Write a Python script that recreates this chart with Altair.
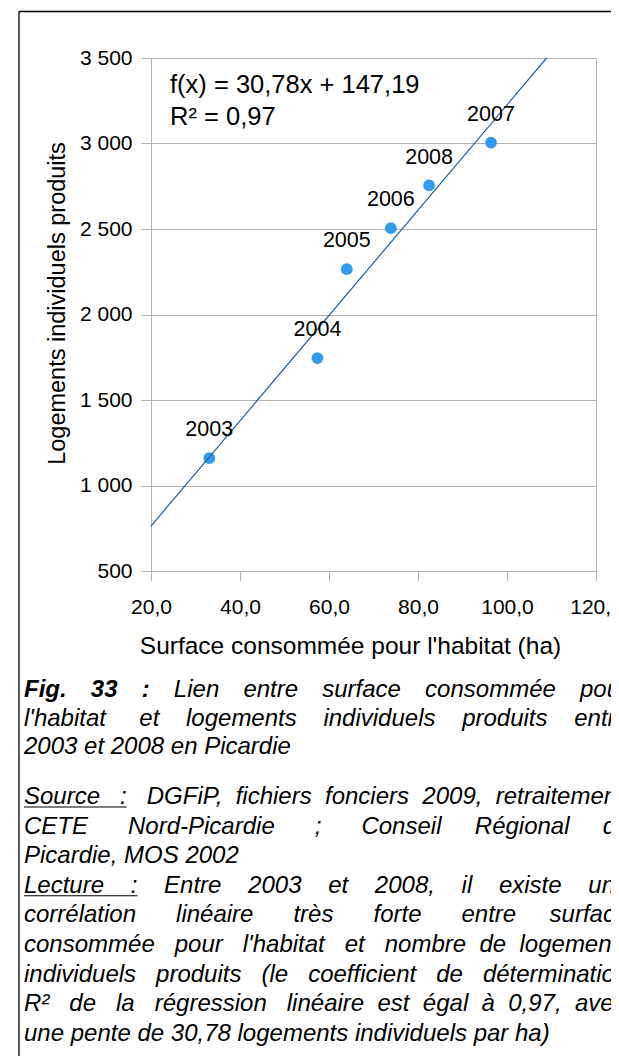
import altair as alt
import pandas as pd

# ---------------- data ----------------
years = ["2003", "2004", "2005", "2006", "2007", "2008"]
surface = [33.1, 57.4, 64.0, 73.9, 96.4, 82.5]
logements = [1160, 1745, 2265, 2505, 3005, 2755]

trend_x = [20.0, 108.9]
trend_y = [762.8, 3500.0]

x_ticks = [20, 40, 60, 80, 100, 120]
y_ticks = [500, 1000, 1500, 2000, 2500, 3000, 3500]

equation = ["f(x) = 30,78x + 147,19", "R² = 0,97"]

x_title = "Surface consommée pour l'habitat (ha)"
y_title = "Logements individuels produits"

caption_bold = "Fig. 33 :"
caption_lines = [
    "Lien entre surface consommée pour",
    "l'habitat et logements individuels produits entre",
    "2003 et 2008 en Picardie",
    "Source : DGFiP, fichiers fonciers 2009, retraitement",
    "CETE Nord-Picardie ; Conseil Régional de",
    "Picardie, MOS 2002",
    "Lecture : Entre 2003 et 2008, il existe une",
    "corrélation linéaire très forte entre surface",
    "consommée pour l'habitat et nombre de logements",
    "individuels produits (le coefficient de détermination",
    "R² de la régression linéaire est égal à 0,97, avec",
    "une pente de 30,78 logements individuels par ha)",
]
justified = [True, True, False, True, True, False, True, True, True, True, True, False]

# ---------------- layout ----------------
W, H = 445, 513
PAD_L, PAD_T = 143, 50
TOTAL_W, TOTAL_H = 603, 1048
ORIGIN_X, ORIGIN_Y = 8 + PAD_L, 8 + PAD_T  # page coords of plot origin

def px(xp):
    return xp - ORIGIN_X

def py(yp):
    return yp - ORIGIN_Y

# Arial / Liberation Sans advance widths (1/1000 em)
AW = {
    " ": 278, "\u00a0": 278, "a": 556, "b": 556, "c": 500, "d": 556, "e": 556, "f": 278,
    "g": 556, "h": 556, "i": 222, "j": 222, "k": 500, "l": 222, "m": 833, "n": 556,
    "o": 556, "p": 556, "q": 556, "r": 333, "s": 500, "t": 278, "u": 556, "v": 500,
    "w": 722, "x": 500, "y": 500, "z": 500, "A": 667, "B": 667, "C": 722, "D": 722,
    "E": 667, "F": 611, "G": 778, "H": 722, "I": 278, "J": 500, "K": 667, "L": 556,
    "M": 833, "N": 722, "O": 778, "P": 667, "Q": 778, "R": 722, "S": 667, "T": 611,
    "U": 722, "V": 667, "W": 944, "X": 667, "Y": 667, "Z": 611, ",": 278, ".": 278,
    ":": 278, ";": 278, "'": 191, "(": 333, ")": 333, "-": 333, "²": 333, "é": 556,
    "è": 556, "à": 556,
}
BW = {"F": 611, "i": 278, "g": 611, ".": 278, " ": 278, "3": 556, ":": 333}

def tw(s, table=AW):
    return sum(table.get(c, 556) for c in s) / 1000.0

CAP_FS = 24
CAP_X0 = 24
CAP_R = 628
LINE_Y = [697, 725.5, 754] + [804 + 29.6 * k for k in range(9)]

def justify(words, start_x, avail):
    gaps = len(words) - 1
    natural = tw(" ".join(words)) * CAP_FS
    extra = max(0.0, avail - start_x - natural)
    sp = 0.278 * CAP_FS
    n_extra = int(round(extra / sp))
    out = words[0]
    for i, w in enumerate(words[1:]):
        k = n_extra // gaps + (1 if i < n_extra % gaps else 0)
        out += "\u00a0" * (1 + k) + w
    return out, n_extra, gaps

layers = []

pts = pd.DataFrame({"year": years, "surface": surface, "logements": logements})
trend = pd.DataFrame({"x": trend_x, "y": trend_y})

xscale = alt.Scale(domain=[20, 120], nice=False, zero=False)
yscale = alt.Scale(domain=[500, 3500], nice=False, zero=False)

xenc = alt.X(
    "surface:Q", scale=xscale,
    axis=alt.Axis(
        values=x_ticks, grid=False, labelFlush=False, labelOverlap=False,
        labelExpr="replace(format(datum.value, '.1f'), '.', ',')",
        title=x_title, titleX=199, titleY=63, titleBaseline="top", titleFontSize=24.5,
    ),
)
yenc = alt.Y(
    "logements:Q", scale=yscale,
    axis=alt.Axis(
        values=y_ticks, grid=True, labelFlush=False, labelOverlap=False,
        labelExpr="replace(format(datum.value, ',d'), ',', ' ')",
        title=y_title, titleX=-82, titleY=245, titleBaseline="bottom", titleFontSize=23.5,
    ),
)

line = alt.Chart(trend).mark_line(color="#1f5fa0", strokeWidth=1.2).encode(
    x=alt.X("x:Q", scale=xscale), y=alt.Y("y:Q", scale=yscale),
)
points = alt.Chart(pts).mark_circle(size=140, color="#339af0", opacity=1).encode(x=xenc, y=yenc)
labels = alt.Chart(pts).mark_text(
    font="Liberation Sans", fontSize=21.5, dy=-21.7, baseline="alphabetic", align="center", color="black"
).encode(x="surface:Q", y="logements:Q", text="year:N")

layers += [points, line, labels]

for t, yb in zip(equation, [93, 125]):
    layers.append(alt.Chart(pd.DataFrame({"t": [t]})).mark_text(
        font="Liberation Sans", fontSize=25.5, align="left", baseline="alphabetic", color="black"
    ).encode(text="t:N", x=alt.value(px(170)), y=alt.value(py(yb))))

# frame
frame_df = pd.DataFrame({"k": [0]})
layers.append(alt.Chart(frame_df).mark_rule(color="black", strokeWidth=1.3).encode(
    x=alt.value(px(19)), y=alt.value(py(11.5)), y2=alt.value(py(1070))))
layers.append(alt.Chart(frame_df).mark_rule(color="black", strokeWidth=1.3).encode(
    x=alt.value(px(19)), x2=alt.value(px(640)), y=alt.value(py(11.5))))

# caption
for i, (txt, just) in enumerate(zip(caption_lines, justified)):
    x0 = CAP_X0
    if i == 0:
        words_all = caption_bold.split(" ") + txt.split(" ")
        natural = tw(caption_bold, BW) * CAP_FS + tw(" " + txt) * CAP_FS
        gaps = len(words_all) - 1
        g = (CAP_R - CAP_X0 - natural) / gaps + 0.278 * CAP_FS
        cx = CAP_X0
        for j, w in enumerate(words_all):
            tbl = BW if j < 3 else AW
            layers.append(alt.Chart(pd.DataFrame({"t": [w]})).mark_text(
                font="Liberation Sans", fontSize=CAP_FS, fontStyle="italic",
                fontWeight="bold" if j < 3 else "normal", align="left", baseline="alphabetic",
                color="black").encode(text="t:N", x=alt.value(px(cx)), y=alt.value(py(LINE_Y[i]))))
            cx += tw(w, tbl) * CAP_FS + g
        continue
    words = txt.split(" ")
    if just:
        text, n_extra, gaps = justify(words, x0, CAP_R)
    else:
        text = txt
    layers.append(alt.Chart(pd.DataFrame({"t": [text]})).mark_text(
        font="Liberation Sans", fontSize=CAP_FS, fontStyle="italic", align="left",
        baseline="alphabetic", color="black").encode(
        text="t:N", x=alt.value(px(x0)), y=alt.value(py(LINE_Y[i]))))
    if i in (3, 6):
        lab = words[0]
        k0 = n_extra // gaps + (1 if 0 < n_extra % gaps else 0)
        uw = (tw(lab) + 0.278 * (1 + k0) + tw(":")) * CAP_FS
        layers.append(alt.Chart(frame_df).mark_rule(color="black", strokeWidth=1.1).encode(
            x=alt.value(px(CAP_X0)), x2=alt.value(px(CAP_X0 + uw)), y=alt.value(py(LINE_Y[i] + 3))))

chart = alt.layer(*layers).properties(
    width=W, height=H,
    autosize=alt.AutoSizeParams(type="none"),
    padding={"left": PAD_L, "top": PAD_T, "right": TOTAL_W - PAD_L - W, "bottom": TOTAL_H - PAD_T - H},
).configure_view(stroke="#b3b3b3", strokeWidth=1).configure_axis(
    labelFont="Liberation Sans", titleFont="Liberation Sans", labelFontSize=21,
    titleFontWeight="normal", labelColor="black", titleColor="black",
    domainColor="#b3b3b3", tickColor="#b3b3b3", gridColor="#b3b3b3", tickSize=10,
).configure_axisY(labelPadding=9).configure_axisX(labelPadding=15)

chart.save("out.html", embed_options={"renderer": "svg", "actions": False})
